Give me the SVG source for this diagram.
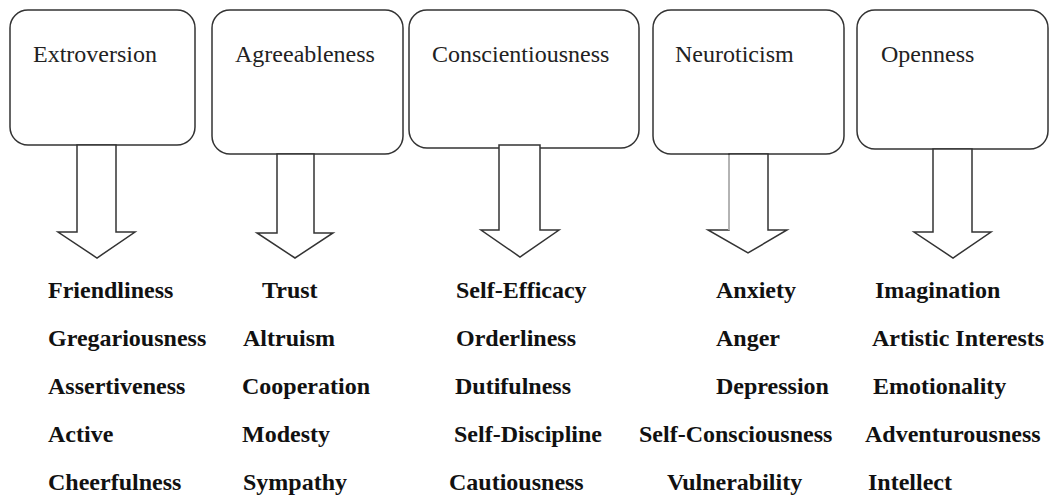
<svg xmlns="http://www.w3.org/2000/svg" width="1050" height="496" viewBox="0 0 1050 496">
  <style>
    .box { fill: #ffffff; stroke: #333333; stroke-width: 1.5; }
    .arrow { fill: #ffffff; stroke: #333333; stroke-width: 1.5; stroke-linejoin: miter; }
    .head { font-family: "Liberation Serif", "Times New Roman", serif; font-size: 24px; fill: #222222; }
    .item { font-family: "Liberation Serif", "Times New Roman", serif; font-size: 24px; font-weight: bold; fill: #111111; }
  </style>
  <rect width="1050" height="496" fill="#ffffff"/>

  <g id="extroversion">
    <rect class="box" x="10" y="10" width="185" height="135" rx="18" ry="18"/>
    <text class="head" x="33" y="62">Extroversion</text>
  </g>
  <g id="agreeableness">
    <rect class="box" x="212" y="10" width="191" height="144" rx="18" ry="18"/>
    <text class="head" x="235" y="62">Agreeableness</text>
  </g>
  <g id="conscientiousness">
    <rect class="box" x="409" y="10" width="230" height="138" rx="18" ry="18"/>
    <text class="head" x="432" y="62">Conscientiousness</text>
  </g>
  <g id="neuroticism">
    <rect class="box" x="653" y="10" width="191" height="144" rx="18" ry="18"/>
    <text class="head" x="675" y="62">Neuroticism</text>
  </g>
  <g id="openness">
    <rect class="box" x="857" y="10" width="191" height="139" rx="18" ry="18"/>
    <text class="head" x="881" y="62">Openness</text>
  </g>

  <g id="connectors">
    <polygon class="arrow" points="77,145 116,145 116,232 135,232 97,258 58,232 77,232"/>
    <polygon class="arrow" points="277,154 314,154 314,233 333,233 295,258 257,233 277,233"/>
    <polygon class="arrow" points="499,145 540,145 540,230 559,230 520,257 481,230 499,230"/>
    <polygon class="arrow" points="729,154 768,154 768,230 787,230 748,253 708,230 729,230"/>
    <line x1="729" y1="155" x2="729" y2="230" stroke="#c8c8c8" stroke-width="1.6"/>
    <polygon class="arrow" points="933,149 972,149 972,232 991,232 953,258 914,232 933,232"/>
  </g>

  <g id="extroversion-facets">
    <text class="item" x="48" y="298">Friendliness</text>
    <text class="item" x="48" y="346">Gregariousness</text>
    <text class="item" x="48" y="394">Assertiveness</text>
    <text class="item" x="48" y="442">Active</text>
    <text class="item" x="48" y="490">Cheerfulness</text>
  </g>
  <g id="agreeableness-facets">
    <text class="item" x="262" y="298">Trust</text>
    <text class="item" x="243" y="346">Altruism</text>
    <text class="item" x="242" y="394">Cooperation</text>
    <text class="item" x="242" y="442">Modesty</text>
    <text class="item" x="243" y="490">Sympathy</text>
  </g>
  <g id="conscientiousness-facets">
    <text class="item" x="456" y="298">Self-Efficacy</text>
    <text class="item" x="456" y="346">Orderliness</text>
    <text class="item" x="455" y="394">Dutifulness</text>
    <text class="item" x="454" y="442">Self-Discipline</text>
    <text class="item" x="449" y="490">Cautiousness</text>
  </g>
  <g id="neuroticism-facets">
    <text class="item" x="716" y="298">Anxiety</text>
    <text class="item" x="716" y="346">Anger</text>
    <text class="item" x="716" y="394">Depression</text>
    <text class="item" x="639" y="442">Self-Consciousness</text>
    <text class="item" x="667" y="490">Vulnerability</text>
  </g>
  <g id="openness-facets">
    <text class="item" x="875" y="298">Imagination</text>
    <text class="item" x="872" y="346">Artistic Interests</text>
    <text class="item" x="873" y="394">Emotionality</text>
    <text class="item" x="865" y="442">Adventurousness</text>
    <text class="item" x="868" y="490">Intellect</text>
  </g>
</svg>
